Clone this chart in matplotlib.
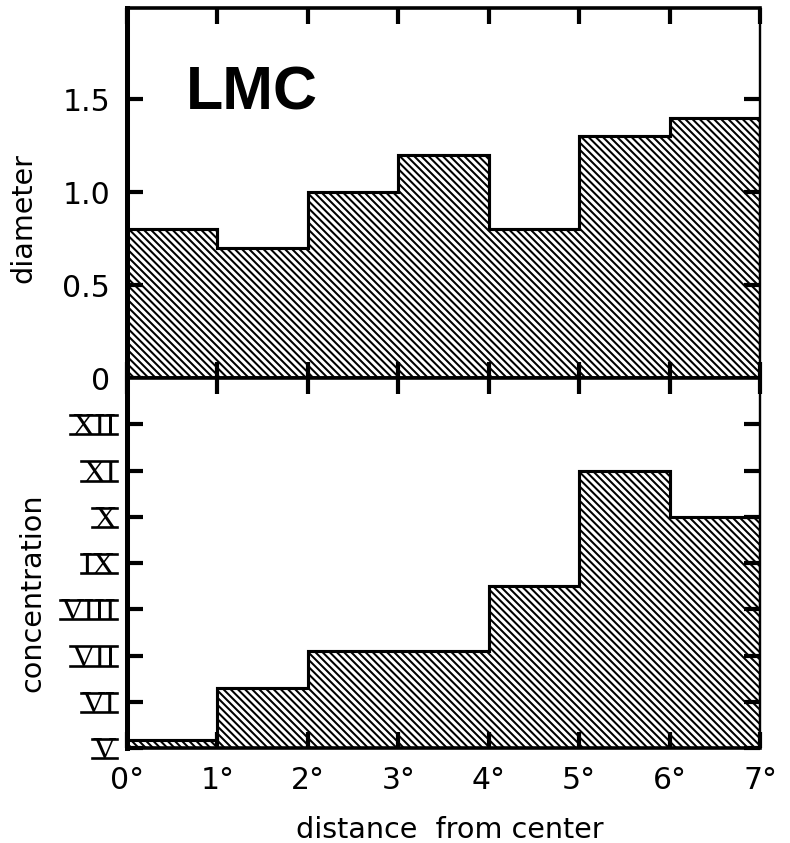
import matplotlib
matplotlib.use("Agg")
import matplotlib.pyplot as plt
from matplotlib.lines import Line2D
from matplotlib.transforms import IdentityTransform

# ---- data ----
edges = [0, 1, 2, 3, 4, 5, 6, 7]
diameter = [0.8, 0.7, 1.0, 1.2, 0.8, 1.3, 1.4]
concentration = [5.17, 6.3, 7.1, 7.1, 8.5, 11.0, 10.0]

x_ticks = [0, 1, 2, 3, 4, 5, 6, 7]
x_labels = ["0°", "1°", "2°", "3°", "4°", "5°", "6°", "7°"]
diam_ticks = [0, 0.5, 1.0, 1.5]
diam_labels = ["0", "0.5", "1.0", "1.5"]
conc_ticks = [5, 6, 7, 8, 9, 10, 11, 12]
conc_labels = ["V", "VI", "VII", "VIII", "IX", "X", "XI", "XII"]

BS = chr(92)
HATCH = BS * 4

DPI = 86
plt.rcParams["hatch.linewidth"] = 1.7
plt.rcParams["hatch.color"] = "black"
plt.rcParams["font.family"] = ["DejaVu Sans"]

fig = plt.figure(figsize=(790 / DPI, 843 / DPI), dpi=DPI)
W, H = 790, 843
left = 127 / W
width = 633 / W
hgt = 370 / H
ax1 = fig.add_axes([left, 1 - 378 / H, width, hgt])
ax2 = fig.add_axes([left, 1 - 748 / H, width, hgt])

def style(ax):
    ax.spines["left"].set_linewidth(4.2)
    ax.spines["top"].set_linewidth(3.0)
    ax.spines["bottom"].set_linewidth(3.0)
    ax.spines["right"].set_linewidth(2.0)
    ax.tick_params(direction="in", length=13, width=3.5, top=True, right=True,
                   labelsize=25)
    ax.set_xlim(0, 7)
    ax.set_xticks(x_ticks)

# upper panel
ax1.stairs(diameter, edges, baseline=0, fill=True, hatch=HATCH,
           facecolor="white", edgecolor="black", linewidth=0)
ax1.stairs(diameter, edges, baseline=0, color="black", linewidth=2.6)
style(ax1)
ax1.set_ylim(0, 1.99)
ax1.set_yticks(diam_ticks)
ax1.set_yticklabels(diam_labels)
ax1.tick_params(axis="y", pad=14)
ax1.tick_params(axis="x", labelbottom=False)
ax1.text(-0.163, 0.432, "diameter", transform=ax1.transAxes, rotation=90,
         ha="center", va="center", fontsize=24)

# lower panel
ax2.stairs(concentration, edges, baseline=5, fill=True, hatch=HATCH,
           facecolor="white", edgecolor="black", linewidth=0)
ax2.stairs(concentration, edges, baseline=5, color="black", linewidth=2.6)
style(ax2)
ax2.set_ylim(5, 13)
ax2.set_yticks(conc_ticks)
ax2.set_yticklabels(conc_labels, fontfamily="Liberation Serif", fontsize=27)
ax2.tick_params(axis="y", pad=9)
ax2.set_xticklabels(x_labels)
ax2.tick_params(axis="x", pad=15)
ax2.text(-0.15, 0.42, "concentration", transform=ax2.transAxes, rotation=90,
         ha="center", va="center", fontsize=24)

fig.text(450 / W, 1 - 830 / H, "distance  from center", ha="center", va="center",
         fontsize=24)
fig.text(186 / W, 1 - 110 / H, "LMC", ha="left", va="baseline",
         fontsize=51, fontweight="bold", fontfamily="Liberation Sans")

# bars above and below the roman numerals (classic numeral style)
fig.canvas.draw()
renderer = fig.canvas.get_renderer()
for t in ax2.get_yticklabels():
    if not t.get_visible() or not t.get_text():
        continue
    bb = t.get_window_extent(renderer)
    prop = t.get_fontproperties()
    _, _, lp_d = renderer.get_text_width_height_descent("lp", prop, False)
    _, h, d = renderer.get_text_width_height_descent(t.get_text(), prop, False)
    base = bb.y0 + lp_d
    top = base + (h - d)
    for yy in (base + 0.8, top - 0.8):
        fig.add_artist(Line2D([bb.x0 - 1, bb.x1 + 1], [yy, yy], color="black",
                              linewidth=2.2, transform=IdentityTransform()))

fig.savefig("out.png", dpi=DPI, facecolor="white")
